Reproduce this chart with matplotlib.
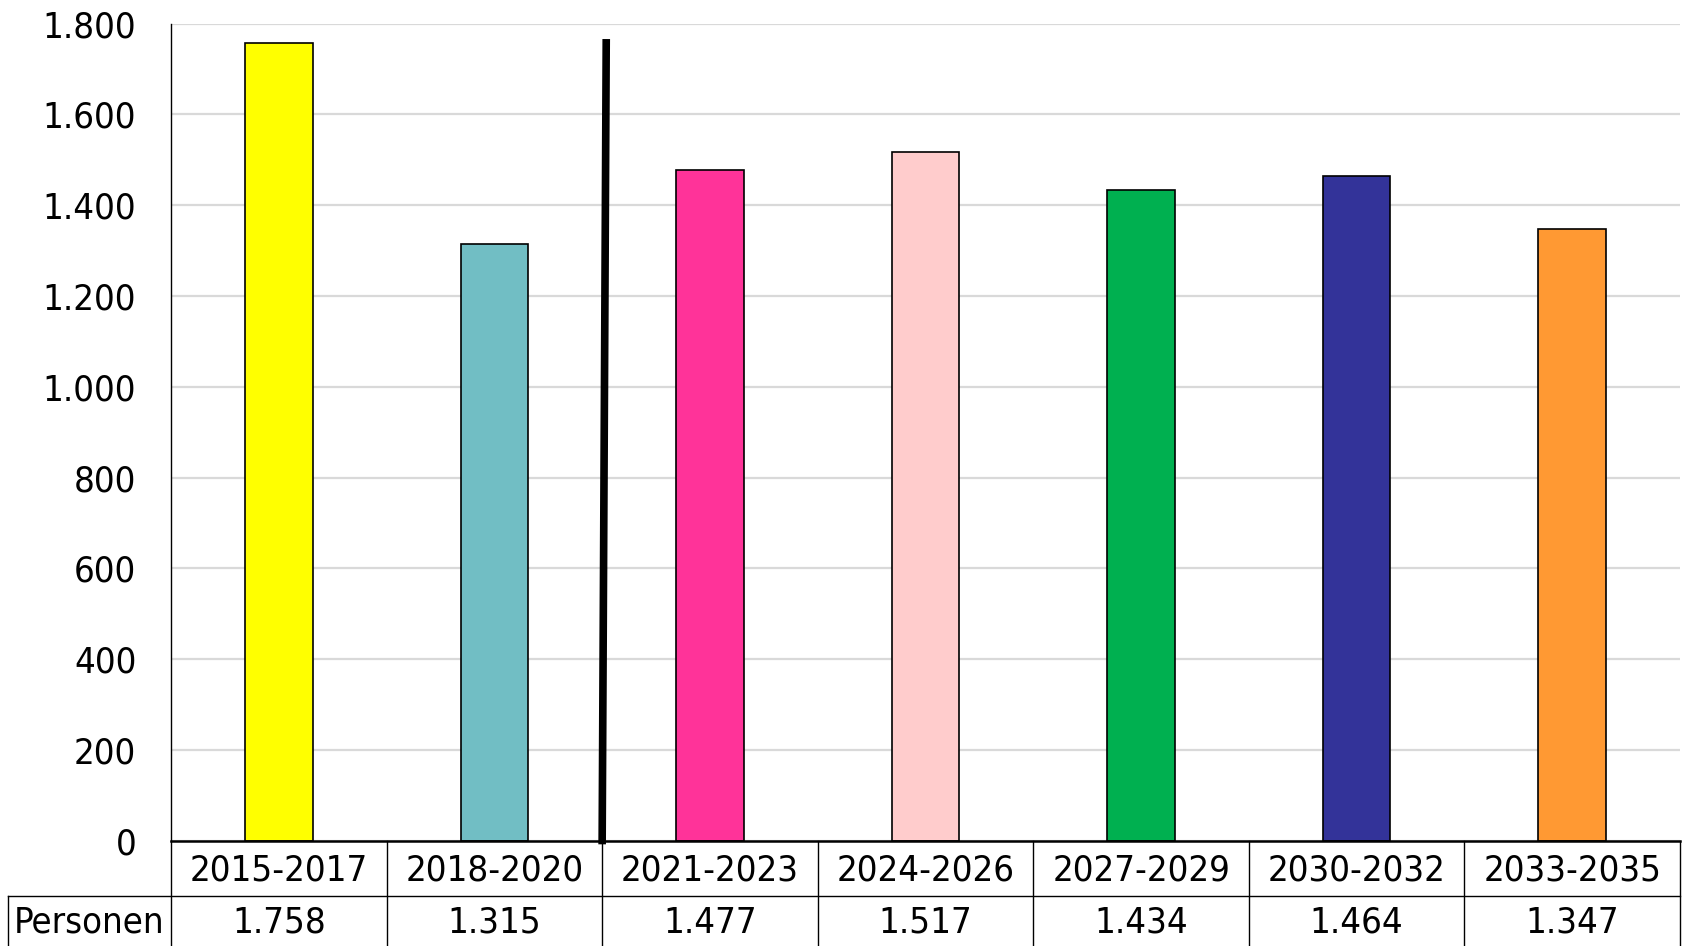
import matplotlib
matplotlib.use("Agg")
import matplotlib.pyplot as plt
from matplotlib import font_manager
from matplotlib.ticker import FuncFormatter
from matplotlib.transforms import blended_transform_factory

categories = ["2015-2017", "2018-2020", "2021-2023", "2024-2026",
              "2027-2029", "2030-2032", "2033-2035"]
values = [1758, 1315, 1477, 1517, 1434, 1464, 1347]
colors = ["#FFFF00", "#71BEC4", "#FF3399", "#FFCCCC", "#00B050", "#333399", "#FF9933"]
row_label = "Personen"
y_ticks = [0, 200, 400, 600, 800, 1000, 1200, 1400, 1600, 1800]

# forecast separator (data coords): top and bottom end
sep_x = [1.519, 1.500]
sep_y = [1766, -8]

# prefer a condensed face if installed (closer to the Tahoma look)
names = {f.name for f in font_manager.fontManager.ttflist}
condensed = "DejaVu Sans Condensed" in names or any(
    f.name == "DejaVu Sans" and f.stretch in ("condensed", "semi-condensed")
    for f in font_manager.fontManager.ttflist)
plt.rcParams['font.family'] = ['DejaVu Sans']
if condensed:
    plt.rcParams['font.stretch'] = 'condensed'
    FS = 26.2
else:
    FS = 23.5

W, H = 1682, 946
fig = plt.figure(figsize=(W / 100, H / 100), dpi=100)
ax_left, ax_right = 171 / W, 1680 / W
ax_top, ax_bottom = 23.6 / H, 840.7 / H
ax = fig.add_axes([ax_left, 1 - ax_bottom, ax_right - ax_left, ax_bottom - ax_top])

def de_fmt(v, pos=None):
    return f"{int(round(v)):,}".replace(",", ".")

x = list(range(len(categories)))
ax.bar(x, values, width=0.314, color=colors, edgecolor="black", linewidth=1.2, zorder=3)

ax.set_xlim(-0.5, len(categories) - 0.5)
ax.set_ylim(0, 1800)
ax.set_yticks(y_ticks)
ax.yaxis.set_major_formatter(FuncFormatter(de_fmt))
ax.tick_params(axis="y", length=0, pad=25, labelsize=FS)
ax.set_xticks([])
ax.grid(axis="y", color="#d9d9d9", linewidth=1.6)
ax.set_axisbelow(True)
for s in ["top", "right"]:
    ax.spines[s].set_visible(False)
ax.spines["left"].set_linewidth(1.0)
ax.spines["bottom"].set_linewidth(1.8)
ax.spines["bottom"].set_zorder(4)

# separator line
ax.plot(sep_x, sep_y, color="black", linewidth=5.5, clip_on=False, zorder=5,
        solid_capstyle="butt")

# data table below the axes
ax_h_px = (ax_bottom - ax_top) * H
row1 = 55.0 / ax_h_px
row2 = 50.3 / ax_h_px
trans = blended_transform_factory(ax.transData, ax.transAxes)
lw_t = 1.0
left_x = -0.5 - (171 - 7.5) / ((1680 - 171) / len(categories))
n = len(categories)
ax.plot([left_x, n - 0.5], [-row1, -row1], transform=trans, color="black",
        lw=lw_t, clip_on=False)
for b in [i - 0.5 for i in range(n + 1)]:
    ax.plot([b, b], [0, -row1 - row2 - 0.01], transform=trans, color="black", lw=lw_t,
            clip_on=False)
ax.plot([left_x, left_x], [-row1, -row1 - row2 - 0.01], transform=trans, color="black",
        lw=lw_t, clip_on=False)

# baseline positions (pixels below the zero line)
base1 = 40.0 / ax_h_px
base2 = row1 + 37.0 / ax_h_px
for i, (c, v) in enumerate(zip(categories, values)):
    ax.text(i, -base1, c, transform=trans, ha="center", va="baseline", fontsize=FS)
    ax.text(i, -base2, de_fmt(v), transform=trans, ha="center",
            va="baseline", fontsize=FS)
ax.text((left_x - 0.5) / 2, -base2, row_label, transform=trans,
        ha="center", va="baseline", fontsize=FS)

fig.savefig("out.png", dpi=100)
